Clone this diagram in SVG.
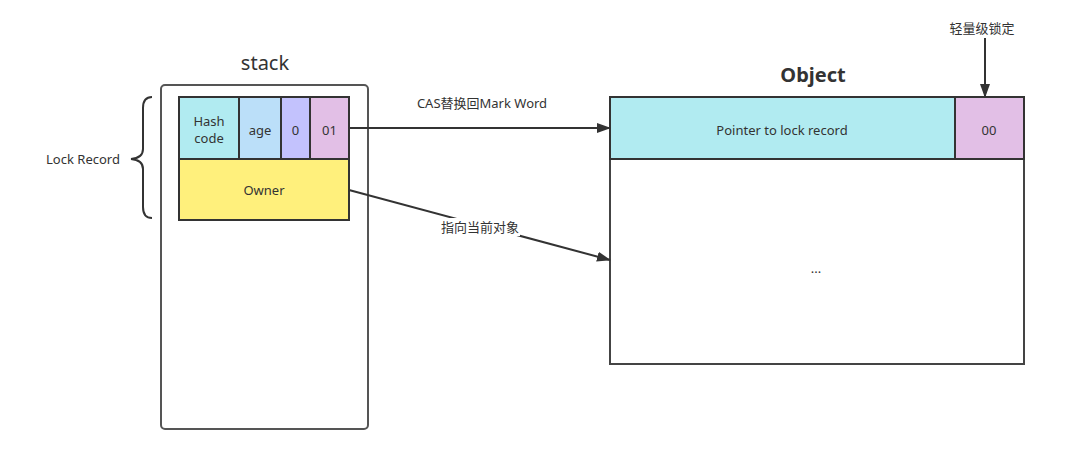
<svg xmlns="http://www.w3.org/2000/svg" width="1066" height="450" viewBox="0 0 1066 450">
<style>
text{font-family:"Noto Sans","Noto Sans CJK SC",sans-serif;fill:#333;font-size:13px;text-anchor:middle;dominant-baseline:central}
.cell{stroke:#333;stroke-width:2}
.line{stroke:#333;stroke-width:2;fill:none}
.title{font-size:20px}
</style>
<defs>
<marker id="ah" markerWidth="14" markerHeight="10" refX="13" refY="5" orient="auto" markerUnits="userSpaceOnUse">
<path d="M0,0 L14,5 L0,10 Z" fill="#333"/>
</marker>
</defs>
<rect width="1066" height="450" fill="#fff"/>
<g id="stack">
<text class="title" x="265" y="62">stack</text>
<rect x="161" y="85" width="207" height="344" rx="4" fill="#fff" stroke="#555" stroke-width="2"/>
</g>
<g id="hashcode"><rect class="cell" x="179" y="97" width="60" height="62" fill="#b1ebf1"/><text x="209" y="121">Hash</text><text x="209" y="138">code</text></g>
<g id="age"><rect class="cell" x="239" y="97" width="42" height="62" fill="#bbdff9"/><text x="260" y="130">age</text></g>
<g id="zero"><rect class="cell" x="281" y="97" width="29" height="62" fill="#c3c2fd"/><text x="295.5" y="130">0</text></g>
<g id="flag01"><rect class="cell" x="310" y="97" width="39" height="62" fill="#e2bfe6"/><text x="329.5" y="130">01</text></g>
<g id="owner"><rect class="cell" x="179" y="159" width="170" height="61" fill="#fff07c"/><text x="264" y="190">Owner</text></g>
<g id="lockrecord">
<path class="line" d="M152,97 Q143,97 143,108 L143,149 Q143,158 131,159 Q143,160 143,169 L143,207 Q143,218 152,218" stroke-width="1.8"/>
<text x="83" y="159">Lock Record</text>
</g>
<g id="object">
<text class="title" x="813" y="74" font-weight="bold">Object</text>
<rect x="610" y="97" width="414" height="267" fill="#fff" stroke="#444" stroke-width="2"/>
<text x="816" y="268">...</text>
</g>
<g id="pointer"><rect class="cell" x="610" y="97" width="345" height="62" fill="#b1ebf1"/><text x="782" y="130">Pointer to lock record</text></g>
<g id="flag00"><rect class="cell" x="955" y="97" width="69" height="62" fill="#e2bfe6"/><text x="989" y="130">00</text></g>
<g id="lightlock"><text x="982" y="28">轻量级锁定</text></g>
<g id="connectors">
<line class="line" x1="349" y1="128" x2="610" y2="128" marker-end="url(#ah)"/>
<text x="482" y="103">CAS替换回Mark Word</text>
<line class="line" x1="349" y1="190" x2="610" y2="260" marker-end="url(#ah)"/>
<rect x="440" y="218" width="80" height="18" fill="#fff"/>
<text x="480" y="227">指向当前对象</text>
<line class="line" x1="985" y1="38" x2="985" y2="97" marker-end="url(#ah)"/>
</g>
</svg>
